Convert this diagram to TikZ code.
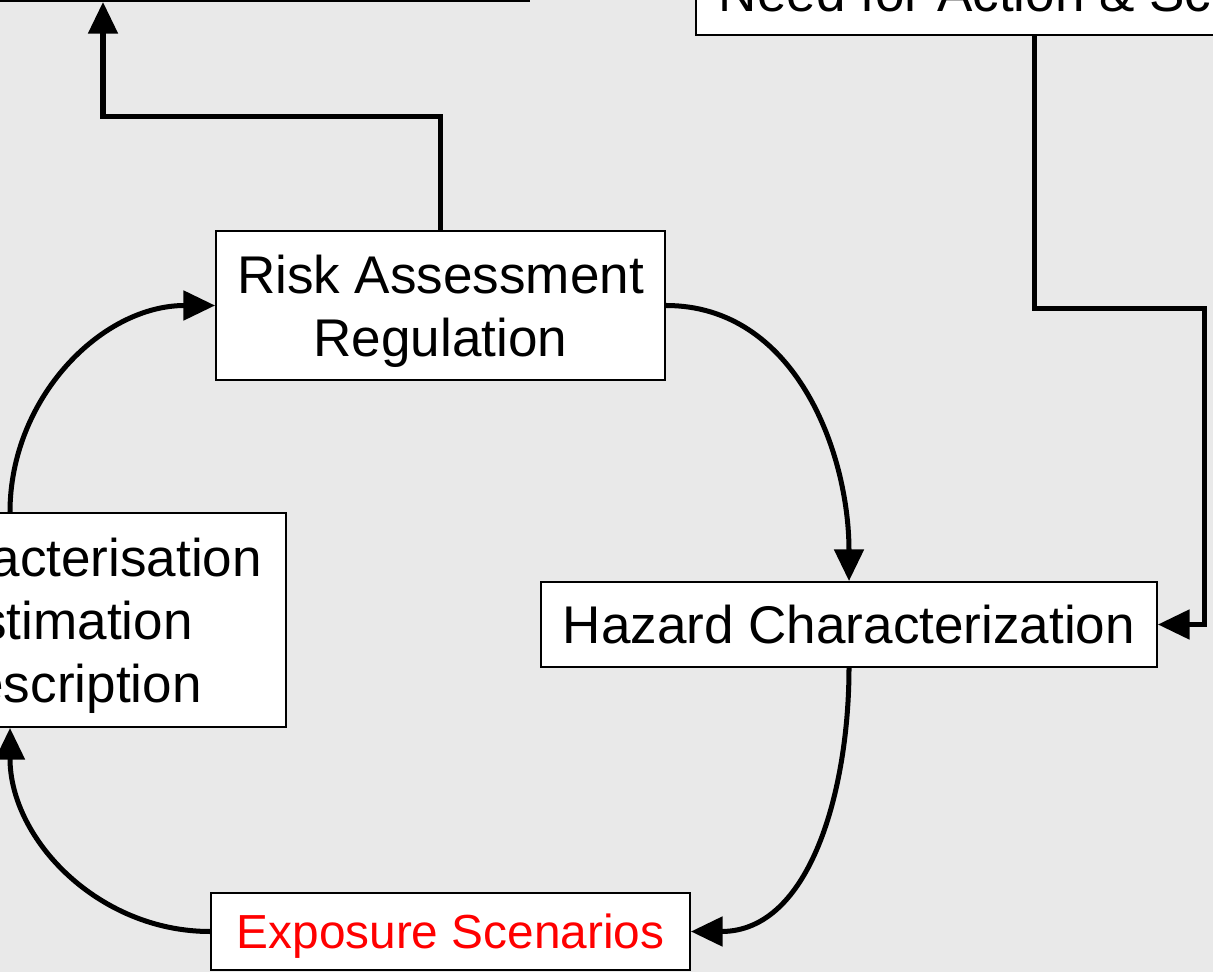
\documentclass[tikz,border=0pt]{standalone}
\usepackage{fontspec}
\setmainfont{Liberation Sans}
\usetikzlibrary{arrows.meta}
\definecolor{canvas}{HTML}{E9E9E9}
\definecolor{scenred}{HTML}{FF0000}

\begin{document}
\begin{tikzpicture}[x=0.02cm, y=-0.02cm,
    box/.style={draw, line width=1.1pt, fill=white, inner sep=0pt, text depth=0pt, align=center, font=\fontsize{30.2}{35.9}\selectfont},
    flow/.style={line width=2.85pt, -{Triangle[length=18pt, width=16.5pt]}}]
    \useasboundingbox (0,0) rectangle (1213,972);
    \clip (0,0) rectangle (1213,972);
    \fill[canvas] (0,0) rectangle (1213,972);

    \node[box, anchor=south east, minimum width=12cm, minimum height=2cm] (goal) at (530,2) {};
    \node[box, anchor=south west, inner xsep=0.46cm, minimum height=1.7cm] (need) at (695,36) {Need for Action \& Scope};
    \node[box, minimum width=8.98cm, minimum height=2.98cm] (risk) at (440.5,305.5) {Risk Assessment\\Regulation};
    \node[box, minimum width=12.32cm, minimum height=1.7cm] (hazard) at (849,624.5) {Hazard Characterization};
    \node[box, minimum width=9.58cm, minimum height=1.54cm, text=scenred, font=\fontsize{27.2}{32.6}\selectfont] (expo) at (450.5,931.5) {Exposure Scenarios};
    \node[box, minimum width=11.04cm, minimum height=4.28cm] (charac) at (10,620) {Risk Characterisation\\Risk Estimation\\Risk Description};

    % bends
    \coordinate (upturn) at (103,117);
    \coordinate (downturn) at (1034,309);
    \coordinate (sideturn) at (1204,309);

    \draw[flow] (risk.north) |- (upturn) -- (upturn |- goal.south);
    \draw[flow] (downturn |- need.south) -- (downturn) -- (sideturn) |- (hazard.east);
    \draw[flow] (risk.east) to[out=0, in=90] (hazard.north);
    \draw[flow] (hazard.south) to[out=-90, in=0] (expo.east);
    \draw[flow] (expo.west) to[out=180, in=-90] (charac.south);
    \draw[flow] (charac.north) to[out=90, in=180] (risk.west);
\end{tikzpicture}
\end{document}
